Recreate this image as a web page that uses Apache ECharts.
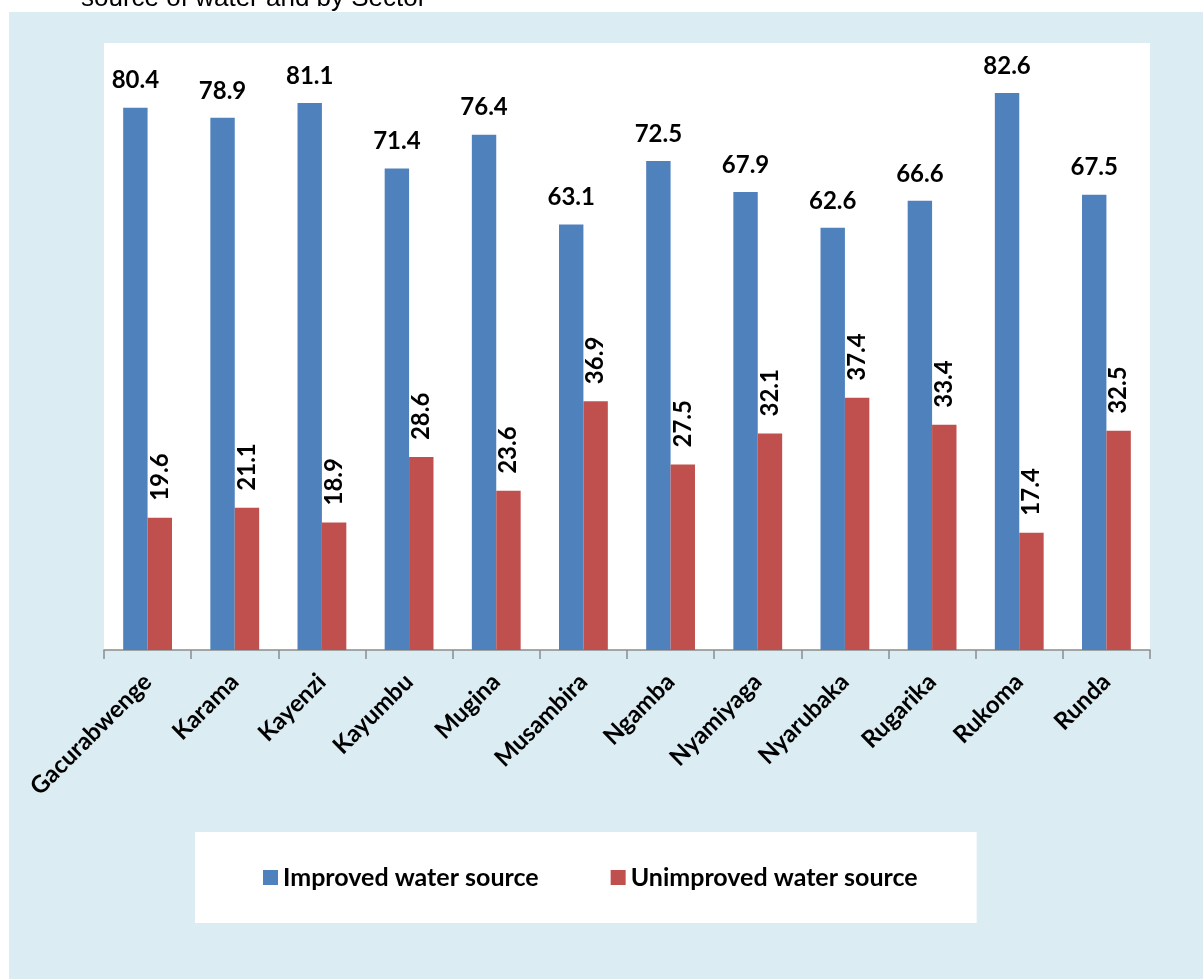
<!DOCTYPE html>
<html>
<head>
<meta charset="utf-8">
<script src="https://cdn.jsdelivr.net/npm/echarts@6/dist/echarts.min.js"></script>
<style>
html,body{margin:0;padding:0;background:#fff;}
#c{width:1203px;height:979px;}
</style>
</head>
<body>
<div id="c"></div>
<script>
var categories = ['Gacurabwenge','Karama','Kayenzi','Kayumbu','Mugina','Musambira','Ngamba','Nyamiyaga','Nyarubaka','Rugarika','Rukoma','Runda'];
var improved = [80.4, 78.9, 81.1, 71.4, 76.4, 63.1, 72.5, 67.9, 62.6, 66.6, 82.6, 67.5];
var unimproved = [19.6, 21.1, 18.9, 28.6, 23.6, 36.9, 27.5, 32.1, 37.4, 33.4, 17.4, 32.5];
var seriesNames = ['Improved water source', 'Unimproved water source'];
var titleText = 'source of water and by Sector';

var chart = echarts.init(document.getElementById('c'), null, {renderer: 'canvas'});
var FONT = 'Lato';
chart.setOption({
  backgroundColor: '#ffffff',
  animation: false,
  graphic: [
    {type: 'rect', z: -10, silent: true, shape: {x: 9, y: 12, width: 1194, height: 967}, style: {fill: '#DBEDF3'}}
  ],
  title: {
    text: titleText,
    left: 81, top: -14,
    padding: 0,
    textStyle: {fontFamily: 'Liberation Sans', fontWeight: 'normal', fontSize: 26, color: '#000'}
  },
  legend: {
    data: seriesNames,
    left: 195, top: 832,
    padding: [33, 59, 33, 68],
    backgroundColor: '#ffffff',
    itemWidth: 15, itemHeight: 15, itemGap: 72,
    icon: 'rect',
    textStyle: {fontFamily: FONT, fontWeight: 'bold', fontSize: 25, color: '#000'}
  },
  grid: {
    left: 104, right: 53, top: 43, bottom: 329,
    show: true, backgroundColor: '#ffffff', borderWidth: 0,
    containLabel: false
  },
  xAxis: {
    type: 'category',
    data: categories,
    axisLine: {lineStyle: {color: '#8C8C8C', width: 1.5}},
    axisTick: {show: true, length: 9, lineStyle: {color: '#8C8C8C', width: 1.5}},
    axisLabel: {rotate: 45, margin: 28, interval: 0, fontFamily: FONT, fontWeight: 'bold', fontSize: 24, color: '#000'}
  },
  yAxis: {
    type: 'value', min: 0, max: 90,
    show: false,
    splitLine: {show: false}
  },
  series: [
    {
      name: seriesNames[0], type: 'bar', data: improved,
      barGap: '0%', barCategoryGap: '44%',
      itemStyle: {color: '#4F81BD'},
      label: {show: true, position: 'top', distance: 15, fontFamily: FONT, fontWeight: 'bold', fontSize: 24, color: '#000'}
    },
    {
      name: seriesNames[1], type: 'bar', data: unimproved,
      itemStyle: {color: '#C0504D'},
      label: {show: true, position: 'top', distance: 17, rotate: 90, align: 'left', verticalAlign: 'middle', fontFamily: FONT, fontWeight: 'bold', fontSize: 24, color: '#000'}
    }
  ]
});
</script>
</body>
</html>
